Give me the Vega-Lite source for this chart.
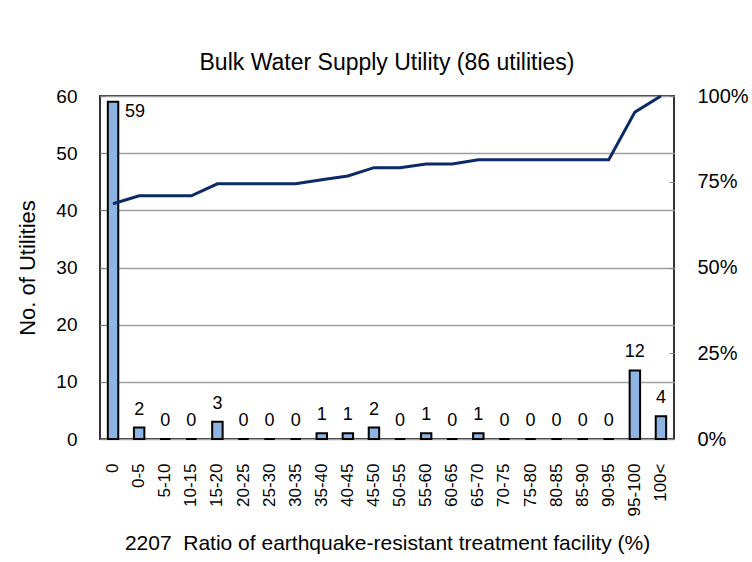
{
  "$schema": "https://vega.github.io/schema/vega-lite/v6.json",
  "width": 574,
  "height": 343,
  "autosize": {"type": "none"},
  "padding": {"left": 100, "top": 96, "right": 78, "bottom": 123},
  "background": "white",
  "title": {
    "text": "Bulk Water Supply Utility (86 utilities)",
    "fontSize": 23,
    "fontWeight": "normal",
    "font": "Liberation Sans",
    "color": "black",
    "offset": 11
  },
  "config": {
    "font": "Liberation Sans",
    "view": {"stroke": "#333333", "strokeWidth": 2},
    "axis": {"labelColor": "black", "titleColor": "black", "labelFont": "Liberation Sans", "titleFont": "Liberation Sans", "titleFontWeight": "normal"}
  },
  "data": {
    "values": [
      {"cat": "0", "count": 59, "cum": 0.686},
      {"cat": "0-5", "count": 2, "cum": 0.709},
      {"cat": "5-10", "count": 0, "cum": 0.709},
      {"cat": "10-15", "count": 0, "cum": 0.709},
      {"cat": "15-20", "count": 3, "cum": 0.744},
      {"cat": "20-25", "count": 0, "cum": 0.744},
      {"cat": "25-30", "count": 0, "cum": 0.744},
      {"cat": "30-35", "count": 0, "cum": 0.744},
      {"cat": "35-40", "count": 1, "cum": 0.756},
      {"cat": "40-45", "count": 1, "cum": 0.767},
      {"cat": "45-50", "count": 2, "cum": 0.791},
      {"cat": "50-55", "count": 0, "cum": 0.791},
      {"cat": "55-60", "count": 1, "cum": 0.802},
      {"cat": "60-65", "count": 0, "cum": 0.802},
      {"cat": "65-70", "count": 1, "cum": 0.814},
      {"cat": "70-75", "count": 0, "cum": 0.814},
      {"cat": "75-80", "count": 0, "cum": 0.814},
      {"cat": "80-85", "count": 0, "cum": 0.814},
      {"cat": "85-90", "count": 0, "cum": 0.814},
      {"cat": "90-95", "count": 0, "cum": 0.814},
      {"cat": "95-100", "count": 12, "cum": 0.953},
      {"cat": "100<", "count": 4, "cum": 1.0}
    ]
  },
  "encoding": {
    "x": {
      "field": "cat",
      "type": "nominal",
      "sort": null,
      "scale": {"paddingInner": 0, "paddingOuter": 0},
      "axis": {
        "title": "2207\u00a0\u00a0Ratio of earthquake-resistant treatment facility (%)",
        "titleFontSize": 21,
        "titlePadding": 17,
        "labelAngle": -90,
        "labelFontSize": 17,
        "labelPadding": 24,
        "ticks": false,
        "domain": false,
        "grid": false
      }
    }
  },
  "layer": [
    {
      "encoding": {
        "y": {
          "field": "count",
          "type": "quantitative",
          "scale": {"domain": [0, 60], "nice": false},
          "axis": {
            "title": "No. of Utilities",
            "titleFontSize": 22,
            "titlePadding": 16,
            "values": [0, 10, 20, 30, 40, 50, 60],
            "labelFontSize": 19,
            "labelPadding": 28,
            "tickSize": -5,
            "tickColor": "#808080",
            "domain": false,
            "grid": true,
            "gridColor": "#a0a0a0",
            "gridWidth": 1.5
          }
        }
      },
      "layer": [
        {
          "mark": {"type": "bar", "width": {"band": 0.4}, "fill": "#8db4e3", "stroke": "black", "strokeWidth": 2}
        },
        {
          "transform": [{"filter": "datum.count < 59"}],
          "mark": {"type": "text", "baseline": "bottom", "dy": -9, "fontSize": 18, "color": "black"},
          "encoding": {"text": {"field": "count", "type": "quantitative"}}
        },
        {
          "transform": [{"filter": "datum.count == 59"}],
          "mark": {"type": "text", "baseline": "top", "dx": 22, "dy": 1, "fontSize": 18, "color": "black"},
          "encoding": {"text": {"field": "count", "type": "quantitative"}}
        }
      ]
    },
    {
      "mark": {"type": "line", "color": "#0c2a66", "strokeWidth": 3},
      "encoding": {
        "y": {
          "field": "cum",
          "type": "quantitative",
          "scale": {"domain": [0, 1], "nice": false},
          "axis": {
            "orient": "right",
            "title": null,
            "values": [0, 0.25, 0.5, 0.75, 1],
            "format": ".0%",
            "labelFontSize": 20,
            "labelPadding": 28,
            "tickSize": -5,
            "tickColor": "#808080",
            "domain": false,
            "grid": false
          }
        }
      }
    }
  ],
  "resolve": {"scale": {"y": "independent"}}
}
